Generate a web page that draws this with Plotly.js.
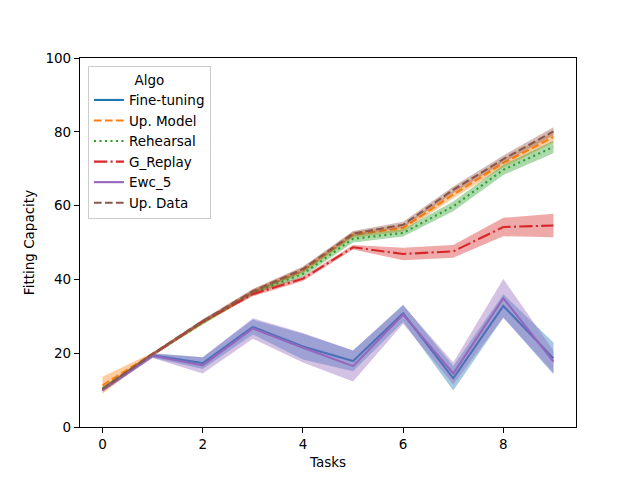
<!DOCTYPE html>
<html>
<head>
<meta charset="utf-8">
<script src="https://cdn.plot.ly/plotly-3.0.1.min.js"></script>
<style>
  html, body { margin: 0; padding: 0; background: #fff; }
  #chart { width: 640px; height: 480px; }
</style>
</head>
<body>
<div id="chart"></div>
<script>
// data
var tasks = [0, 1, 2, 3, 4, 5, 6, 7, 8, 9]

var fineTuning       = [10.2, 19.4, 17.3, 27.1, 21.8, 17.9, 30.8, 13.2, 32.8, 18.6]
var fineTuningSpread = [0.6, 0.6, 1.6, 2.0, 3.5, 2.8, 2.3, 3.3, 3.2, 4.3]
var upModel          = [11.3, 19.8, 28.4, 36.6, 42.4, 52.1, 53.9, 63.0, 71.5, 78.6]
var upModelSpread    = [2.3, 0.4, 0.6, 0.7, 0.8, 0.8, 0.9, 1.0, 1.2, 1.5]
var rehearsal        = [10.4, 19.7, 28.3, 36.4, 41.5, 51.0, 52.6, 59.8, 69.7, 75.9]
var rehearsalSpread  = [0.5, 0.4, 0.5, 0.6, 0.8, 1.0, 1.0, 1.3, 1.4, 1.7]
var gReplay          = [10.2, 19.6, 28.6, 36.0, 40.2, 48.7, 46.9, 47.6, 54.2, 54.6]
var gReplaySpread    = [0.4, 0.4, 0.5, 0.6, 0.6, 0.6, 1.7, 1.7, 2.5, 3.2]
var ewc5             = [10.0, 19.3, 16.7, 26.7, 21.5, 16.5, 30.5, 14.5, 34.9, 17.7]
var ewc5Spread       = [0.5, 0.6, 2.2, 2.8, 4.0, 4.2, 2.5, 3.0, 5.2, 3.0]
var upData           = [10.3, 19.8, 28.7, 36.8, 42.8, 52.4, 54.8, 64.3, 72.6, 80.1]
var upDataSpread     = [0.5, 0.4, 0.5, 0.6, 0.7, 0.7, 0.8, 0.9, 1.0, 1.1]

var algoNames = ['Fine-tuning', 'Up. Model', 'Rehearsal', 'G_Replay', 'Ewc_5', 'Up. Data']

// styles (matplotlib 1.5pt lines at 100 dpi ~ 2.1px)
var series = [
	{name: algoNames[0], y: fineTuning, s: fineTuningSpread, color: '#1f77b4', rgb: '31,119,180', dash: 'solid'},
	{name: algoNames[1], y: upModel,    s: upModelSpread,    color: '#ff7f0e', rgb: '255,127,14', dash: '7.7px,3.3px'},
	{name: algoNames[2], y: rehearsal,  s: rehearsalSpread,  color: '#2ca02c', rgb: '44,160,44',  dash: '2.1px,3.4px'},
	{name: algoNames[3], y: gReplay,    s: gReplaySpread,    color: '#d62728', rgb: '214,39,40',  dash: '13.3px,3.3px,2.1px,3.3px'},
	{name: algoNames[4], y: ewc5,       s: ewc5Spread,       color: '#9467bd', rgb: '148,103,189', dash: 'solid'},
	{name: algoNames[5], y: upData,     s: upDataSpread,     color: '#8c564b', rgb: '140,86,75',  dash: '7.7px,3.3px'}
]

var traces = []
series.forEach(function(d){
	var hi = d.y.map(function(v, i){ return v + d.s[i] })
	var lo = d.y.map(function(v, i){ return v - d.s[i] })
	// error band
	traces.push({
		x: tasks.concat(tasks.slice().reverse()),
		y: hi.concat(lo.slice().reverse()),
		type: 'scatter',
		mode: 'lines',
		fill: 'toself',
		fillcolor: 'rgba(' + d.rgb + ',0.4)',
		line: {width: 0},
		hoverinfo: 'skip',
		showlegend: false
	})
	traces.push({
		x: tasks,
		y: d.y,
		type: 'scatter',
		mode: 'lines',
		name: d.name,
		line: {color: d.color, width: 2.1, dash: d.dash}
	})
})

var font = {family: 'DejaVu Sans, sans-serif', size: 13.5, color: '#000'}

var layout = {
	width: 640,
	height: 480,
	margin: {l: 80, r: 64, t: 58, b: 53, pad: 0},
	paper_bgcolor: '#fff',
	plot_bgcolor: '#fff',
	font: font,
	showlegend: true,
	xaxis: {
		range: [-0.45, 9.45],
		tickvals: [0, 2, 4, 6, 8],
		ticks: 'outside',
		ticklen: 5,
		tickcolor: '#000',
		showline: true,
		linecolor: '#000',
		linewidth: 1.1,
		mirror: true,
		showgrid: false,
		zeroline: false,
		title: {text: 'Tasks', font: font, standoff: 6}
	},
	yaxis: {
		range: [0, 100],
		tickvals: [0, 20, 40, 60, 80, 100],
		ticks: 'outside',
		ticklen: 5,
		tickcolor: '#000',
		showline: true,
		linecolor: '#000',
		linewidth: 1.1,
		mirror: true,
		showgrid: false,
		zeroline: false,
		title: {text: 'Fitting Capacity', font: font, standoff: 7}
	},
	legend: {
		x: 0.016,
		y: 0.978,
		xanchor: 'left',
		yanchor: 'top',
		bgcolor: 'rgba(255,255,255,0.8)',
		bordercolor: '#cccccc',
		borderwidth: 1,
		font: font,
		title: {text: 'Algo', side: 'top center', font: font}
	}
}

Plotly.newPlot('chart', traces, layout, {displayModeBar: false, staticPlot: true})
</script>
</body>
</html>
